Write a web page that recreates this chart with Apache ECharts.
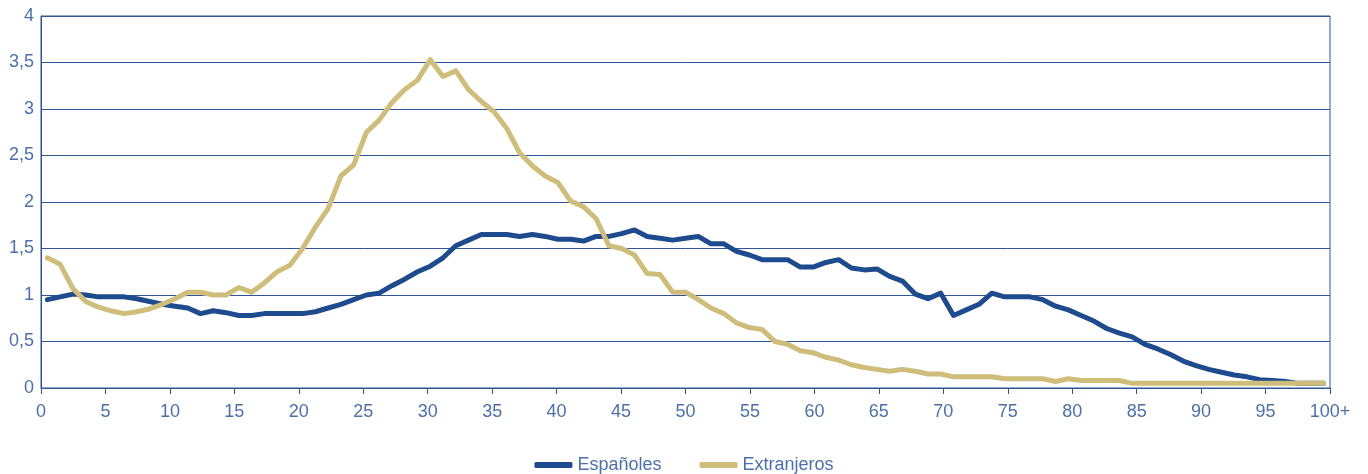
<!DOCTYPE html>
<html>
<head>
<meta charset="utf-8">
<script src="https://cdn.jsdelivr.net/npm/echarts@6/dist/echarts.min.js"></script>
<style>
  html, body { margin: 0; padding: 0; background: #fff; }
  #chart-container { width: 1368px; height: 474px; }
</style>
</head>
<body>
<div id="chart-container"></div>
<script>
// ages 0..99 plus "100+" (one value per age)
var ages = [];
for (var i = 0; i < 100; i++) ages.push(String(i));
ages.push('100+');

// tick labels of the visible age axis
var xTicks = [0, 5, 10, 15, 20, 25, 30, 35, 40, 45, 50, 55, 60, 65, 70, 75, 80, 85, 90, 95, 100];

var espanoles = [
    0.95, 0.98, 1.01, 1.00, 0.98, 0.98, 0.98, 0.96, 0.93, 0.90,
    0.88, 0.86, 0.80, 0.83, 0.81, 0.78, 0.78, 0.80, 0.80, 0.80,
    0.80, 0.82, 0.86, 0.90, 0.95, 1.00, 1.02, 1.10, 1.17, 1.25,
    1.31, 1.40, 1.53, 1.59, 1.65, 1.65, 1.65, 1.63, 1.65, 1.63,
    1.60, 1.60, 1.58, 1.63, 1.63, 1.66, 1.70, 1.63, 1.61, 1.59,
    1.61, 1.63, 1.55, 1.55, 1.47, 1.43, 1.38, 1.38, 1.38, 1.30,
    1.30, 1.35, 1.38, 1.29, 1.27, 1.28, 1.20, 1.15, 1.01, 0.96,
    1.02, 0.78, 0.84, 0.90, 1.02, 0.98, 0.98, 0.98, 0.95, 0.88,
    0.84, 0.78, 0.72, 0.64, 0.59, 0.55, 0.47, 0.42, 0.36, 0.29,
    0.24, 0.20, 0.17, 0.14, 0.12, 0.09, 0.08, 0.07, 0.05, 0.05,
    0.05
];

var extranjeros = [
    1.40, 1.33, 1.07, 0.93, 0.87, 0.83, 0.80, 0.82, 0.85, 0.90,
    0.96, 1.03, 1.03, 1.00, 1.00, 1.08, 1.03, 1.13, 1.25, 1.32,
    1.50, 1.73, 1.93, 2.28, 2.40, 2.75, 2.88, 3.07, 3.21, 3.31,
    3.53, 3.35, 3.41, 3.21, 3.08, 2.97, 2.79, 2.53, 2.39, 2.28,
    2.21, 2.01, 1.95, 1.82, 1.53, 1.50, 1.43, 1.23, 1.22, 1.03,
    1.03, 0.95, 0.86, 0.80, 0.70, 0.65, 0.63, 0.50, 0.47, 0.40,
    0.38, 0.33, 0.30, 0.25, 0.22, 0.20, 0.18, 0.20, 0.18, 0.15,
    0.15, 0.12, 0.12, 0.12, 0.12, 0.10, 0.10, 0.10, 0.10, 0.07,
    0.10, 0.08, 0.08, 0.08, 0.08, 0.05, 0.05, 0.05, 0.05, 0.05,
    0.05, 0.05, 0.05, 0.05, 0.05, 0.05, 0.05, 0.05, 0.05, 0.05,
    0.05
];

var axisBlue = '#2f5597';
var labelBlue = '#4d70aa';
var font = '"Liberation Sans", Arial, sans-serif';

var myChart = echarts.init(document.getElementById('chart-container'));

var option = {
    animation: false,
    textStyle: { fontFamily: font },
    grid: {
        left: 41, right: 38, top: 16, bottom: 86,
        show: true, borderColor: axisBlue, borderWidth: 1
    },
    legend: {
        left: 'center',
        top: 451,
        itemWidth: 38,
        itemHeight: 6,
        itemGap: 38,
        icon: 'roundRect',
        textStyle: { color: labelBlue, fontSize: 18, fontFamily: font },
        data: ['Españoles', 'Extranjeros']
    },
    xAxis: [
        {
            // visible age scale with ticks every 5 years
            type: 'value',
            min: 0,
            max: 100,
            interval: 5,
            axisLine: { show: true, lineStyle: { color: axisBlue, width: 1 } },
            axisTick: { show: true, length: 6, lineStyle: { color: axisBlue } },
            splitLine: { show: false },
            axisLabel: {
                color: labelBlue,
                fontSize: 18,
                margin: 15,
                showMaxLabel: true,
                formatter: function (v) {
                    return v === 100 ? '100+' : String(xTicks[xTicks.indexOf(v)]);
                }
            }
        },
        {
            // one slot per age, used by the series
            type: 'category',
            data: ages,
            boundaryGap: true,
            show: false
        }
    ],
    yAxis: {
        type: 'value',
        min: 0,
        max: 4,
        interval: 0.5,
        axisLine: { show: true, lineStyle: { color: axisBlue, width: 1 } },
        axisTick: { show: false },
        splitLine: { show: true, lineStyle: { color: axisBlue, width: 1 } },
        axisLabel: {
            color: labelBlue,
            fontSize: 18,
            margin: 7,
            formatter: function (v) { return String(v).replace('.', ','); }
        }
    },
    series: [
        {
            name: 'Españoles',
            type: 'line',
            xAxisIndex: 1,
            data: espanoles,
            symbol: 'none',
            color: '#1e4b8e',
            lineStyle: { width: 5, cap: 'round', join: 'round' }
        },
        {
            name: 'Extranjeros',
            type: 'line',
            xAxisIndex: 1,
            data: extranjeros,
            symbol: 'none',
            color: '#cfbe7b',
            lineStyle: { width: 5, cap: 'round', join: 'round' }
        }
    ]
};
myChart.setOption(option);
</script>
</body>
</html>
